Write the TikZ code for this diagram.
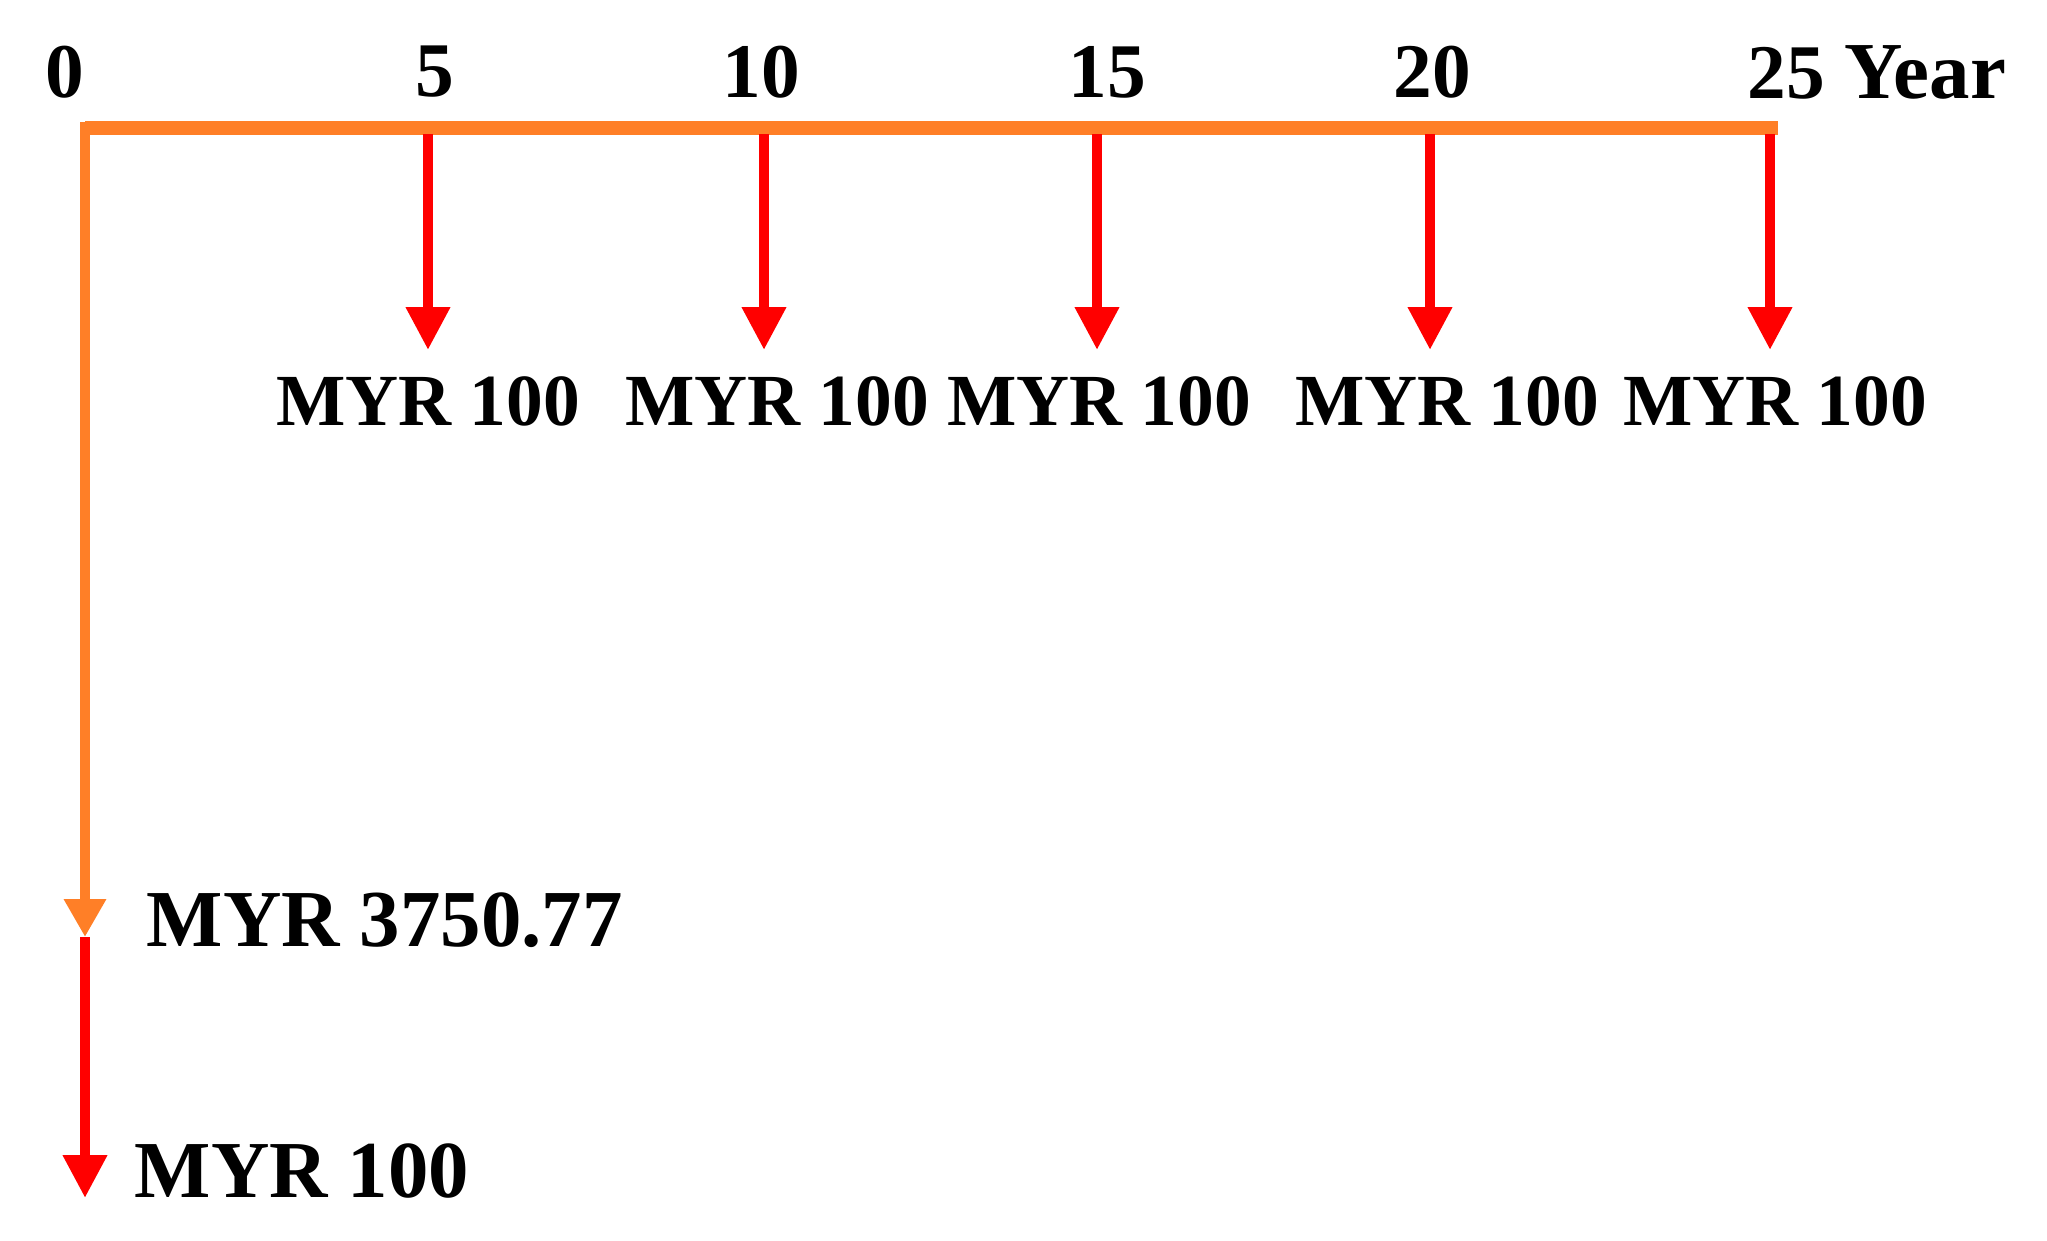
\documentclass[tikz,border=0pt]{standalone}
\usepackage{fontspec}
\setmainfont{Liberation Serif}
\usetikzlibrary{arrows.meta}
\definecolor{O}{RGB}{255,127,39}
\definecolor{R}{RGB}{255,0,0}

\begin{document}
\begin{tikzpicture}[
  yr/.style={font=\fontsize{22}{26}\selectfont\bfseries, inner sep=0pt},
  amt/.style={font=\fontsize{20.9}{26}\selectfont\bfseries, inner sep=0pt},
  big/.style={font=\fontsize{23}{28}\selectfont\bfseries, inner sep=0pt, anchor=west},
  axisline/.style={O, line width=3.9pt},
  flow/.style={R, line width=2.9pt, -{Triangle[width=0.42cm,length=0.43cm]}},
  pv/.style={O, line width=2.7pt, -{Triangle[width=0.40cm,length=0.38cm]}}
  ]
  \useasboundingbox (0,0) rectangle (20.47,-12.40);
  % time line
  \coordinate (t0) at (0.85,-1.28);
  \coordinate (t25) at (17.78,-1.28);
  \coordinate (top) at (0.85,-1.22);
  \coordinate (pvtip) at (0.85,-9.37);
  \coordinate (pmtip) at (0.85,-11.98);
  \draw[axisline] (t0) -- (t25);
  \draw[pv] (top) -- (pvtip);
  \draw[flow] (pvtip) -- (pmtip);
  % years
  \node[yr] (y0) at (0.65,-0.72) {0};
  \node[yr] (y5) at (4.35,-0.72) {5};
  \node[yr] (y10) at (7.61,-0.72) {10};
  \node[yr] (y15) at (11.07,-0.72) {15};
  \node[yr] (y20) at (14.32,-0.72) {20};
  \node[yr, anchor=west] (y25) at (17.47,-0.72) {25 {\fontsize{23}{26}\selectfont Year}};
  % payments
  \coordinate (s5) at (4.28,-1.34);   \coordinate (p5) at (4.28,-3.50);
  \coordinate (s10) at (7.64,-1.34);  \coordinate (p10) at (7.64,-3.50);
  \coordinate (s15) at (10.97,-1.34); \coordinate (p15) at (10.97,-3.50);
  \coordinate (s20) at (14.30,-1.34); \coordinate (p20) at (14.30,-3.50);
  \coordinate (s25) at (17.70,-1.34); \coordinate (p25) at (17.70,-3.50);
  \draw[flow] (s5) -- (p5);
  \draw[flow] (s10) -- (p10);
  \draw[flow] (s15) -- (p15);
  \draw[flow] (s20) -- (p20);
  \draw[flow] (s25) -- (p25);
  \node[amt] (a5) at (4.28,-4.01) {MYR 100};
  \node[amt] (a10) at (7.77,-4.01) {MYR 100};
  \node[amt] (a15) at (10.99,-4.01) {MYR 100};
  \node[amt] (a20) at (14.47,-4.01) {MYR 100};
  \node[amt] (a25) at (17.75,-4.01) {MYR 100};
  % present value
  \node[big] (apv) at (1.46,-9.20) {MYR 3750.77};
  \node[big] (a0) at (1.34,-11.71) {MYR 100};
\end{tikzpicture}
\end{document}
